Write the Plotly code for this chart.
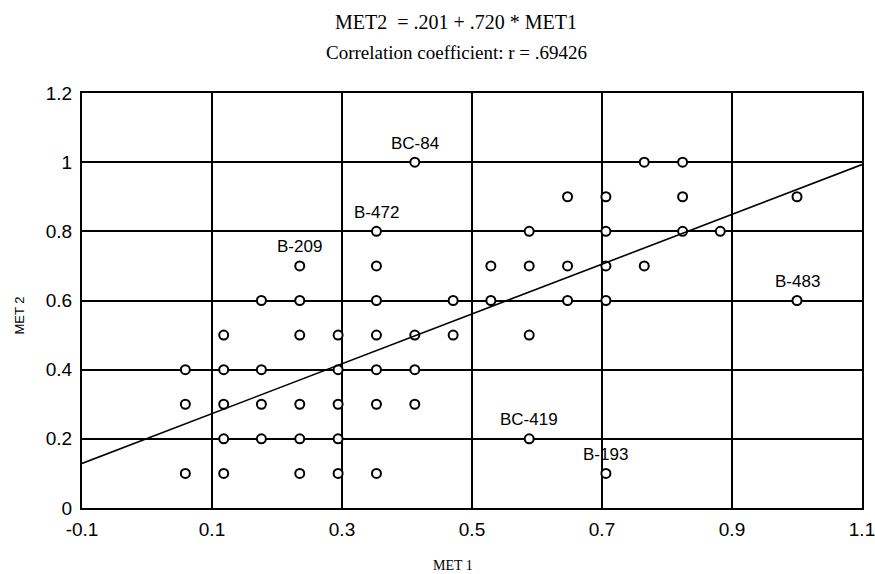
import plotly.graph_objects as go

# Scatter data (MET1, MET2)
met1 = [0.059, 0.118, 0.235, 0.294, 0.353, 0.706,
        0.118, 0.176, 0.235, 0.294, 0.588,
        0.059, 0.118, 0.176, 0.235, 0.294, 0.353, 0.412,
        0.059, 0.118, 0.176, 0.294, 0.353, 0.412,
        0.118, 0.235, 0.294, 0.353, 0.412, 0.471, 0.588,
        0.176, 0.235, 0.353, 0.471, 0.529, 0.647, 0.706, 1.0,
        0.235, 0.353, 0.529, 0.588, 0.647, 0.706, 0.765,
        0.353, 0.588, 0.706, 0.824, 0.882,
        0.647, 0.706, 0.824, 1.0,
        0.412, 0.765, 0.824]
met2 = [0.1] * 6 + [0.2] * 5 + [0.3] * 7 + [0.4] * 6 + [0.5] * 7 + \
       [0.6] * 8 + [0.7] * 7 + [0.8] * 5 + [0.9] * 4 + [1.0] * 3

# Labelled samples
label_names = ["BC-84", "B-472", "B-209", "B-483", "BC-419", "B-193"]
label_x = [0.412, 0.353, 0.235, 1.0, 0.588, 0.706]
label_y = [1.0, 0.8, 0.7, 0.6, 0.2, 0.1]

# Regression line MET2 = .201 + .720 * MET1
intercept = 0.201
slope = 0.720
line_x = [-0.1, 1.1]
line_y = [intercept + slope * v for v in line_x]

x_ticks = [-0.1, 0.1, 0.3, 0.5, 0.7, 0.9, 1.1]
x_ticktext = ["-0.1", "0.1", "0.3", "0.5", "0.7", "0.9", "1.1"]
y_ticks = [0, 0.2, 0.4, 0.6, 0.8, 1.0, 1.2]
y_ticktext = ["0", "0.2", "0.4", "0.6", "0.8", "1", "1.2"]

SERIF = "Liberation Serif, Times New Roman, serif"
SANS = "Liberation Sans, Arial, sans-serif"

fig = go.Figure()
fig.add_trace(go.Scatter(
    x=met1, y=met2, mode="markers",
    marker=dict(symbol="circle", size=9, color="white",
                line=dict(color="black", width=2)),
    showlegend=False, hoverinfo="x+y"))
fig.add_trace(go.Scatter(
    x=line_x, y=line_y, mode="lines",
    line=dict(color="black", width=1.6), showlegend=False))

for name, lx, ly in zip(label_names, label_x, label_y):
    fig.add_annotation(x=lx, y=ly, text=name, showarrow=False,
                       yshift=19, font=dict(family=SANS, size=17, color="black"))

# Titles
fig.add_annotation(xref="paper", yref="paper", x=0.48, y=1.0, yanchor="middle",
                   yshift=71, text="MET2  = .201 + .720 * MET1", showarrow=False,
                   font=dict(family=SERIF, size=20, color="black"))
fig.add_annotation(xref="paper", yref="paper", x=0.48, y=1.0, yanchor="middle",
                   yshift=41, text="Correlation coefficient: r = .69426", showarrow=False,
                   font=dict(family=SERIF, size=19, color="black"))
# Axis titles
fig.add_annotation(xref="paper", yref="paper", x=0.476, y=0.0, yanchor="middle",
                   yshift=-57, text="MET 1", showarrow=False,
                   font=dict(family=SERIF, size=14, color="black"))
fig.add_annotation(xref="paper", yref="paper", x=0.0, y=0.5, xanchor="center",
                   yanchor="middle", xshift=-63, yshift=-15, textangle=-90,
                   text="MET 2", showarrow=False,
                   font=dict(family=SANS, size=13, color="black"))

fig.update_layout(
    width=875, height=574,
    margin=dict(l=82, r=13, t=93, b=66),
    paper_bgcolor="white", plot_bgcolor="white",
    font=dict(family=SANS, size=19, color="black"),
    xaxis=dict(range=[-0.1, 1.1], tickvals=x_ticks, ticktext=x_ticktext,
               showgrid=True, gridcolor="black", gridwidth=1.5,
               zeroline=False, showline=True, linecolor="black", linewidth=2,
               mirror=True, ticks="", ticklen=0, automargin=False,
               ticklabelstandoff=3, ticklabeloverflow="allow"),
    yaxis=dict(range=[0, 1.2], tickvals=y_ticks, ticktext=y_ticktext,
               showgrid=True, gridcolor="black", gridwidth=1.5,
               zeroline=False, showline=True, linecolor="black", linewidth=2,
               mirror=True, ticks="", ticklen=0, automargin=False,
               ticklabelstandoff=4, ticklabeloverflow="allow"),
)

fig.write_html(
    "out.html",
    config={"displayModeBar": False},
    post_script="document.body.style.margin='0';document.body.style.overflow='hidden';",
)
